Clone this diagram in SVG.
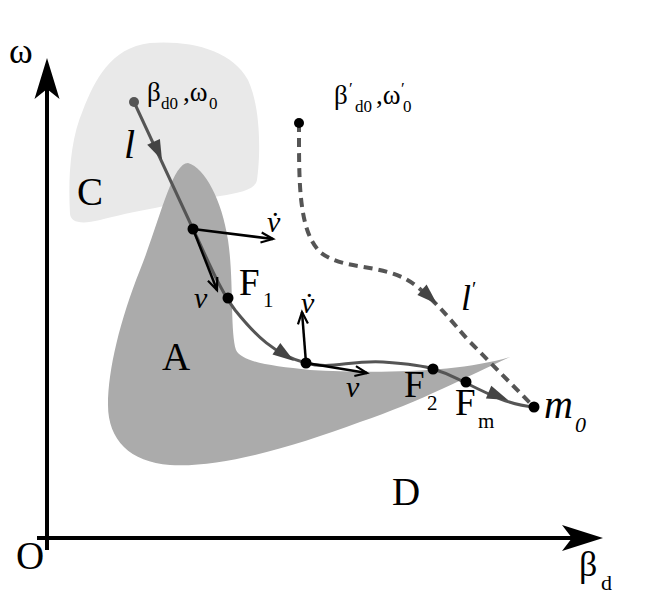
<svg xmlns="http://www.w3.org/2000/svg" width="669" height="603" viewBox="0 0 669 603">
<defs>
<style>
.t{font-family:"Liberation Serif","Times New Roman",serif;fill:#000}
.i{font-style:italic}
.traj{fill:none;stroke:#555;stroke-width:3}
.dash{fill:none;stroke:#555;stroke-width:4;stroke-dasharray:9 6}
.ah{fill:#444;stroke:none}
.vec{fill:none;stroke:#000;stroke-width:2.5;marker-end:url(#open)}
.axis{stroke:#000;stroke-width:4;fill:none}
.dot{fill:#000}
</style>
<marker id="open" markerUnits="userSpaceOnUse" markerWidth="20" markerHeight="14" viewBox="-14 -7 16 14" refX="0" refY="0" orient="auto">
<path d="M-12,-5 L0,0 L-12,5" fill="none" stroke="#000" stroke-width="2.2"/>
</marker>
</defs>
<rect width="669" height="603" fill="#fff"/>
<g id="regionC">
<path d="M70,214 C68,180 70,140 83,110 C95,80 110,48 150,43 C190,40 232,50 248,80 C262,110 260,160 257,180 C255,190 240,193 220,196 C180,203 130,212 100,220 C80,225 71,222 70,214 Z" fill="#e9e9e9"/>
<text class="t" x="77" y="205" font-size="39">C</text>
</g>
<g id="regionA">
<path d="M188,163 C205,168 222,200 228,240 C234,280 230,330 236,350 C242,362 270,366 310,370 C380,374 460,372 510,357 C470,375 420,402 360,422 C290,448 220,468 170,465 C130,462 108,440 108,405 C108,370 120,320 140,270 C160,220 172,163 188,163 Z" fill="#ababab"/>
<text class="t" x="162" y="370" font-size="39">A</text>
</g>
<g id="regionD">
<text class="t" x="392" y="505" font-size="39">D</text>
</g>
<g id="axes">
<line class="axis" x1="47" y1="550" x2="47" y2="88"/>
<path d="M47,58 L59.5,99 L47,89 L34.5,99 Z" fill="#000"/>
<line class="axis" x1="37" y1="538" x2="575" y2="538"/>
<path d="M603,538 L562,551 L572,538 L562,525 Z" fill="#000"/>
<text class="t" x="9" y="63" font-size="36">ω</text>
<text class="t" x="16" y="569" font-size="39">O</text>
<text class="t" x="579" y="576" font-size="36">β</text>
<text class="t" x="601" y="590" font-size="22">d</text>
</g>
<g id="connectors">
<path class="traj" d="M134,102 L193,229 C210,265 220,290 235,310 C255,335 275,355 306,363 C330,370 350,360 383,362 C410,364 425,366 433,369 C450,374 455,378 466,383 C490,395 510,405 534,407"/>
<polygon class="ah" points="162,160 147.2,144.8 159.9,138.9"/>
<polygon class="ah" points="294,361 272.5,354.6 280.3,343"/>
<polygon class="ah" points="508,400 485.9,398.6 491.3,385.8"/>
<path class="dash" d="M299,123 C299,180 298,230 320,252 C345,272 385,262 415,285 C440,305 450,320 470,342 L534,407"/>
<polygon class="ah" points="437,304 417.4,295 426.6,284.5"/>
<line class="vec" x1="193" y1="229" x2="273" y2="239"/>
<line class="vec" x1="193" y1="229" x2="217" y2="290"/>
<line class="vec" x1="306" y1="363" x2="302" y2="312"/>
<line class="vec" x1="306" y1="363" x2="367" y2="373"/>
</g>
<g id="start">
<circle cx="134" cy="102" r="5" fill="#555"/>
<text class="t" x="147" y="101" font-size="27">β</text>
<text class="t" x="161" y="109" font-size="17">d0</text>
<text class="t" x="183" y="101" font-size="27">,ω</text>
<text class="t" x="209" y="109" font-size="17">0</text>
<text class="t i" x="124" y="158" font-size="40">l</text>
</g>
<g id="start2">
<circle class="dot" cx="299" cy="123" r="5"/>
<text class="t" x="334" y="104" font-size="27">β</text>
<text class="t" x="349" y="94" font-size="17">′</text>
<text class="t" x="355" y="112" font-size="17">d0</text>
<text class="t" x="376" y="104" font-size="27">,ω</text>
<text class="t" x="401" y="94" font-size="17">′</text>
<text class="t" x="403" y="112" font-size="17">0</text>
<text class="t i" x="461" y="310" font-size="36">l</text>
<text class="t" x="472" y="296" font-size="20">′</text>
</g>
<g id="p1">
<circle class="dot" cx="193" cy="229" r="5.5"/>
<text class="t i" x="267" y="232" font-size="30">ν<tspan font-style="normal" dx="-10" dy="1">˙</tspan></text>
<text class="t i" x="194" y="308" font-size="30">ν</text>
</g>
<g id="F1">
<circle class="dot" cx="228" cy="298" r="5.5"/>
<text class="t" x="239" y="295" font-size="37">F</text>
<text class="t" x="263" y="307" font-size="21">1</text>
</g>
<g id="p2">
<circle class="dot" cx="306" cy="363" r="5.5"/>
<text class="t i" x="301" y="313" font-size="30">ν<tspan font-style="normal" dx="-10" dy="1">˙</tspan></text>
<text class="t i" x="346" y="397" font-size="30">ν</text>
</g>
<g id="F2">
<circle class="dot" cx="433" cy="369" r="5.5"/>
<text class="t" x="404" y="397" font-size="37">F</text>
<text class="t" x="427" y="410" font-size="21">2</text>
</g>
<g id="Fm">
<circle class="dot" cx="466" cy="382" r="5.5"/>
<text class="t" x="455" y="415" font-size="37">F</text>
<text class="t" x="478" y="428" font-size="21">m</text>
</g>
<g id="m0">
<circle class="dot" cx="534" cy="407" r="5.5"/>
<text class="t i" x="544" y="418" font-size="40">m</text>
<text class="t i" x="575" y="432" font-size="22">0</text>
</g>
</svg>
